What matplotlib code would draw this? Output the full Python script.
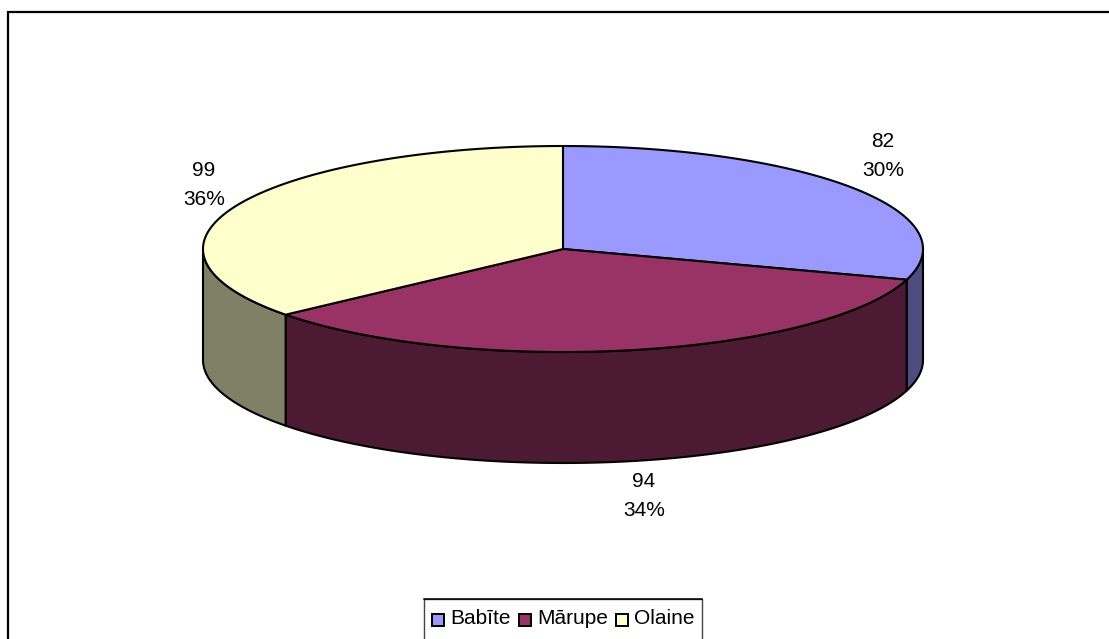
import numpy as np
import matplotlib
matplotlib.use("Agg")
import matplotlib.pyplot as plt
from matplotlib.patches import Polygon, Rectangle

categories = ["Babīte", "Mārupe", "Olaine"]
values = [82, 94, 99]
percents = ["30%", "34%", "36%"]
top_colors = ["#9999FF", "#993366", "#FFFFCC"]
side_colors = ["#4D4D80", "#4D1A33", "#808066"]

W, H = 1109, 639
plt.rcParams["font.family"] = ["Liberation Sans", "DejaVu Sans"]
fig = plt.figure(figsize=(W / 100, H / 100), dpi=100, facecolor="white")
ax = fig.add_axes([0, 0, 1, 1])
ax.set_xlim(0, W)
ax.set_ylim(H, 0)
ax.axis("off")

CX, CY, RX, RY, DEPTH = 563, 249, 360, 103, 111
FS = 15
LW = 1.5


def pt(theta):
    """theta: clockwise degrees from 12 o'clock, on the ellipse parameter."""
    t = np.radians(theta)
    return CX + RX * np.sin(t), CY - RY * np.cos(t)


def arc(a, b):
    th = np.linspace(a, b, max(int(abs(b - a) * 2), 2))
    x, y = pt(th)
    return np.column_stack([x, y])


# chart frame (only top and left edges are visible in the crop)
ax.plot([7.5, 7.5, W], [H, 12, 12], color="black", lw=1.6, solid_joinstyle="miter", zorder=1)

total = sum(values)
edges = np.concatenate([[0], np.cumsum(values) / total * 360])

# side walls: only the front half (theta 90..270) shows
for i in range(len(values)):
    a, b = max(edges[i], 90), min(edges[i + 1], 270)
    if a >= b:
        continue
    front = arc(a, b)
    back = front[::-1] + [0, DEPTH]
    ax.add_patch(Polygon(np.vstack([front, back]), closed=True, fc=side_colors[i],
                         ec="black", lw=LW, zorder=2, joinstyle="round"))

# top faces
for i in range(len(values)):
    poly = np.vstack([[CX, CY], arc(edges[i], edges[i + 1])])
    ax.add_patch(Polygon(poly, closed=True, fc=top_colors[i], ec="black", lw=LW,
                         zorder=3, joinstyle="round"))

# data labels
label_pos = [(883, 156), (644, 496), (204, 185)]
for v, p, (x, y) in zip(values, percents, label_pos):
    ax.text(x, y, f"{v}\n{p}", ha="center", va="center", fontsize=FS,
            linespacing=1.72, color="black", zorder=4)

# legend
ax.add_patch(Rectangle((423.5, 598.5), 278, 60, fc="white", ec="#444444", lw=1.0, zorder=4))
ax.plot([423.5, 701.5], [598.5, 598.5], color="black", lw=1.1, zorder=5)
swatch_x = [432, 519, 616]
text_x = [450, 537, 634]
for c, col, sx, tx in zip(categories, top_colors, swatch_x, text_x):
    ax.add_patch(Rectangle((sx, 613.5), 11.5, 12, fc=col, ec="black", lw=1.4, zorder=5))
    ax.text(tx, 618, c, ha="left", va="center", fontsize=FS, color="black", zorder=5)

fig.savefig("out.png", dpi=100, facecolor="white")
